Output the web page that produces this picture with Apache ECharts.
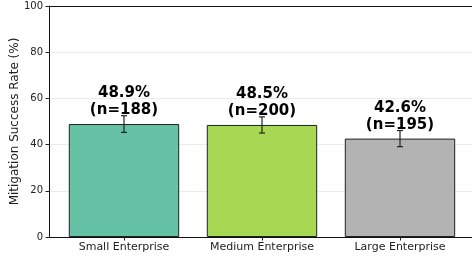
<!DOCTYPE html>
<html>
<head>
<meta charset="utf-8">
<script src="https://cdn.jsdelivr.net/npm/echarts@6/dist/echarts.min.js"></script>
<style>
  html, body { margin: 0; padding: 0; background: #fff; }
  #chart { width: 472px; height: 258px; }
</style>
</head>
<body>
<div id="chart"></div>
<script>
const categories = ['Small Enterprise', 'Medium Enterprise', 'Large Enterprise'];
const successRates = [48.9, 48.5, 42.6];
const sampleSizes = [188, 200, 195];
const errorMargins = [3.6, 3.5, 3.5];

const barColors = ['#66c2a5', '#a6d854', '#b3b3b3'];
const font = 'DejaVu Sans';
const spine = { show: true, onZero: false, lineStyle: { color: '#111', width: 1 } };

const chart = echarts.init(document.getElementById('chart'));

const option = {
  animation: false,
  grid: [
    {
      // matplotlib axes box; its right spine falls off the canvas
      left: 49, top: 6, width: 426, height: 231,
      outerBoundsMode: 'none',
    },
    {
      left: 55, top: 6, width: 414, height: 231,
      outerBoundsMode: 'none',
    },
  ],
  xAxis: [
    {
      gridIndex: 0, type: 'value', min: 0, max: 1, position: 'bottom',
      axisLine: spine, axisTick: { show: false }, axisLabel: { show: false }, splitLine: { show: false },
    },
    {
      gridIndex: 0, type: 'value', min: 0, max: 1, position: 'top',
      axisLine: spine, axisTick: { show: false }, axisLabel: { show: false }, splitLine: { show: false },
    },
    {
      gridIndex: 1,
      type: 'category',
      data: categories,
      axisLine: { show: false },
      axisTick: { show: true, alignWithLabel: true, length: 3.5, lineStyle: { color: '#222' } },
      axisLabel: { fontFamily: font, fontSize: 11, color: '#222', margin: 5 },
    },
  ],
  yAxis: [
    {
      gridIndex: 0,
      type: 'value',
      min: 0,
      max: 100,
      interval: 20,
      name: 'Mitigation Success Rate (%)',
      nameLocation: 'middle',
      nameGap: 28,
      nameMoveOverlap: false,
      nameTextStyle: { fontFamily: font, fontSize: 12, color: '#222' },
      axisLine: spine,
      axisTick: { show: true, length: 3.5, lineStyle: { color: '#222' } },
      axisLabel: { fontFamily: font, fontSize: 10, color: '#222', margin: 6 },
      splitLine: { show: true, lineStyle: { color: '#ebebeb', width: 1 } },
    },
    { gridIndex: 1, type: 'value', min: 0, max: 100, show: false },
  ],
  series: [
    {
      type: 'bar',
      xAxisIndex: 2,
      yAxisIndex: 1,
      barWidth: '80%',
      z: 2,
      data: successRates.map((v, i) => ({
        value: v,
        itemStyle: { color: barColors[i], borderColor: '#222', borderWidth: 1 },
      })),
    },
    {
      type: 'custom',
      xAxisIndex: 2,
      yAxisIndex: 1,
      z: 3,
      data: successRates.map((v, i) => [i, v - errorMargins[i], v + errorMargins[i]]),
      renderItem: (params, api) => {
        const top = api.coord([api.value(0), api.value(2)]);
        const bot = api.coord([api.value(0), api.value(1)]);
        const cap = 3;
        const style = { stroke: '#222', lineWidth: 1.2 };
        return {
          type: 'group',
          children: [
            { type: 'line', shape: { x1: top[0], y1: top[1], x2: bot[0], y2: bot[1] }, style },
            { type: 'line', shape: { x1: top[0] - cap, y1: top[1], x2: top[0] + cap, y2: top[1] }, style },
            { type: 'line', shape: { x1: bot[0] - cap, y1: bot[1], x2: bot[0] + cap, y2: bot[1] }, style },
          ],
        };
      },
    },
    {
      // invisible twin of the bars that carries the value labels above the error bars
      type: 'bar',
      xAxisIndex: 2,
      yAxisIndex: 1,
      barWidth: '80%',
      barGap: '-100%',
      z: 4,
      silent: true,
      itemStyle: { color: 'rgba(0,0,0,0)' },
      data: successRates,
      label: {
        show: true,
        position: 'top',
        distance: 5,
        fontFamily: font,
        fontSize: 15,
        fontWeight: 'bold',
        lineHeight: 17,
        color: '#000',
        formatter: (p) => `${successRates[p.dataIndex].toFixed(1)}%\n(n=${sampleSizes[p.dataIndex]})`,
      },
    },
  ],
};

chart.setOption(option);
window.addEventListener('resize', () => chart.resize());
</script>
</body>
</html>
